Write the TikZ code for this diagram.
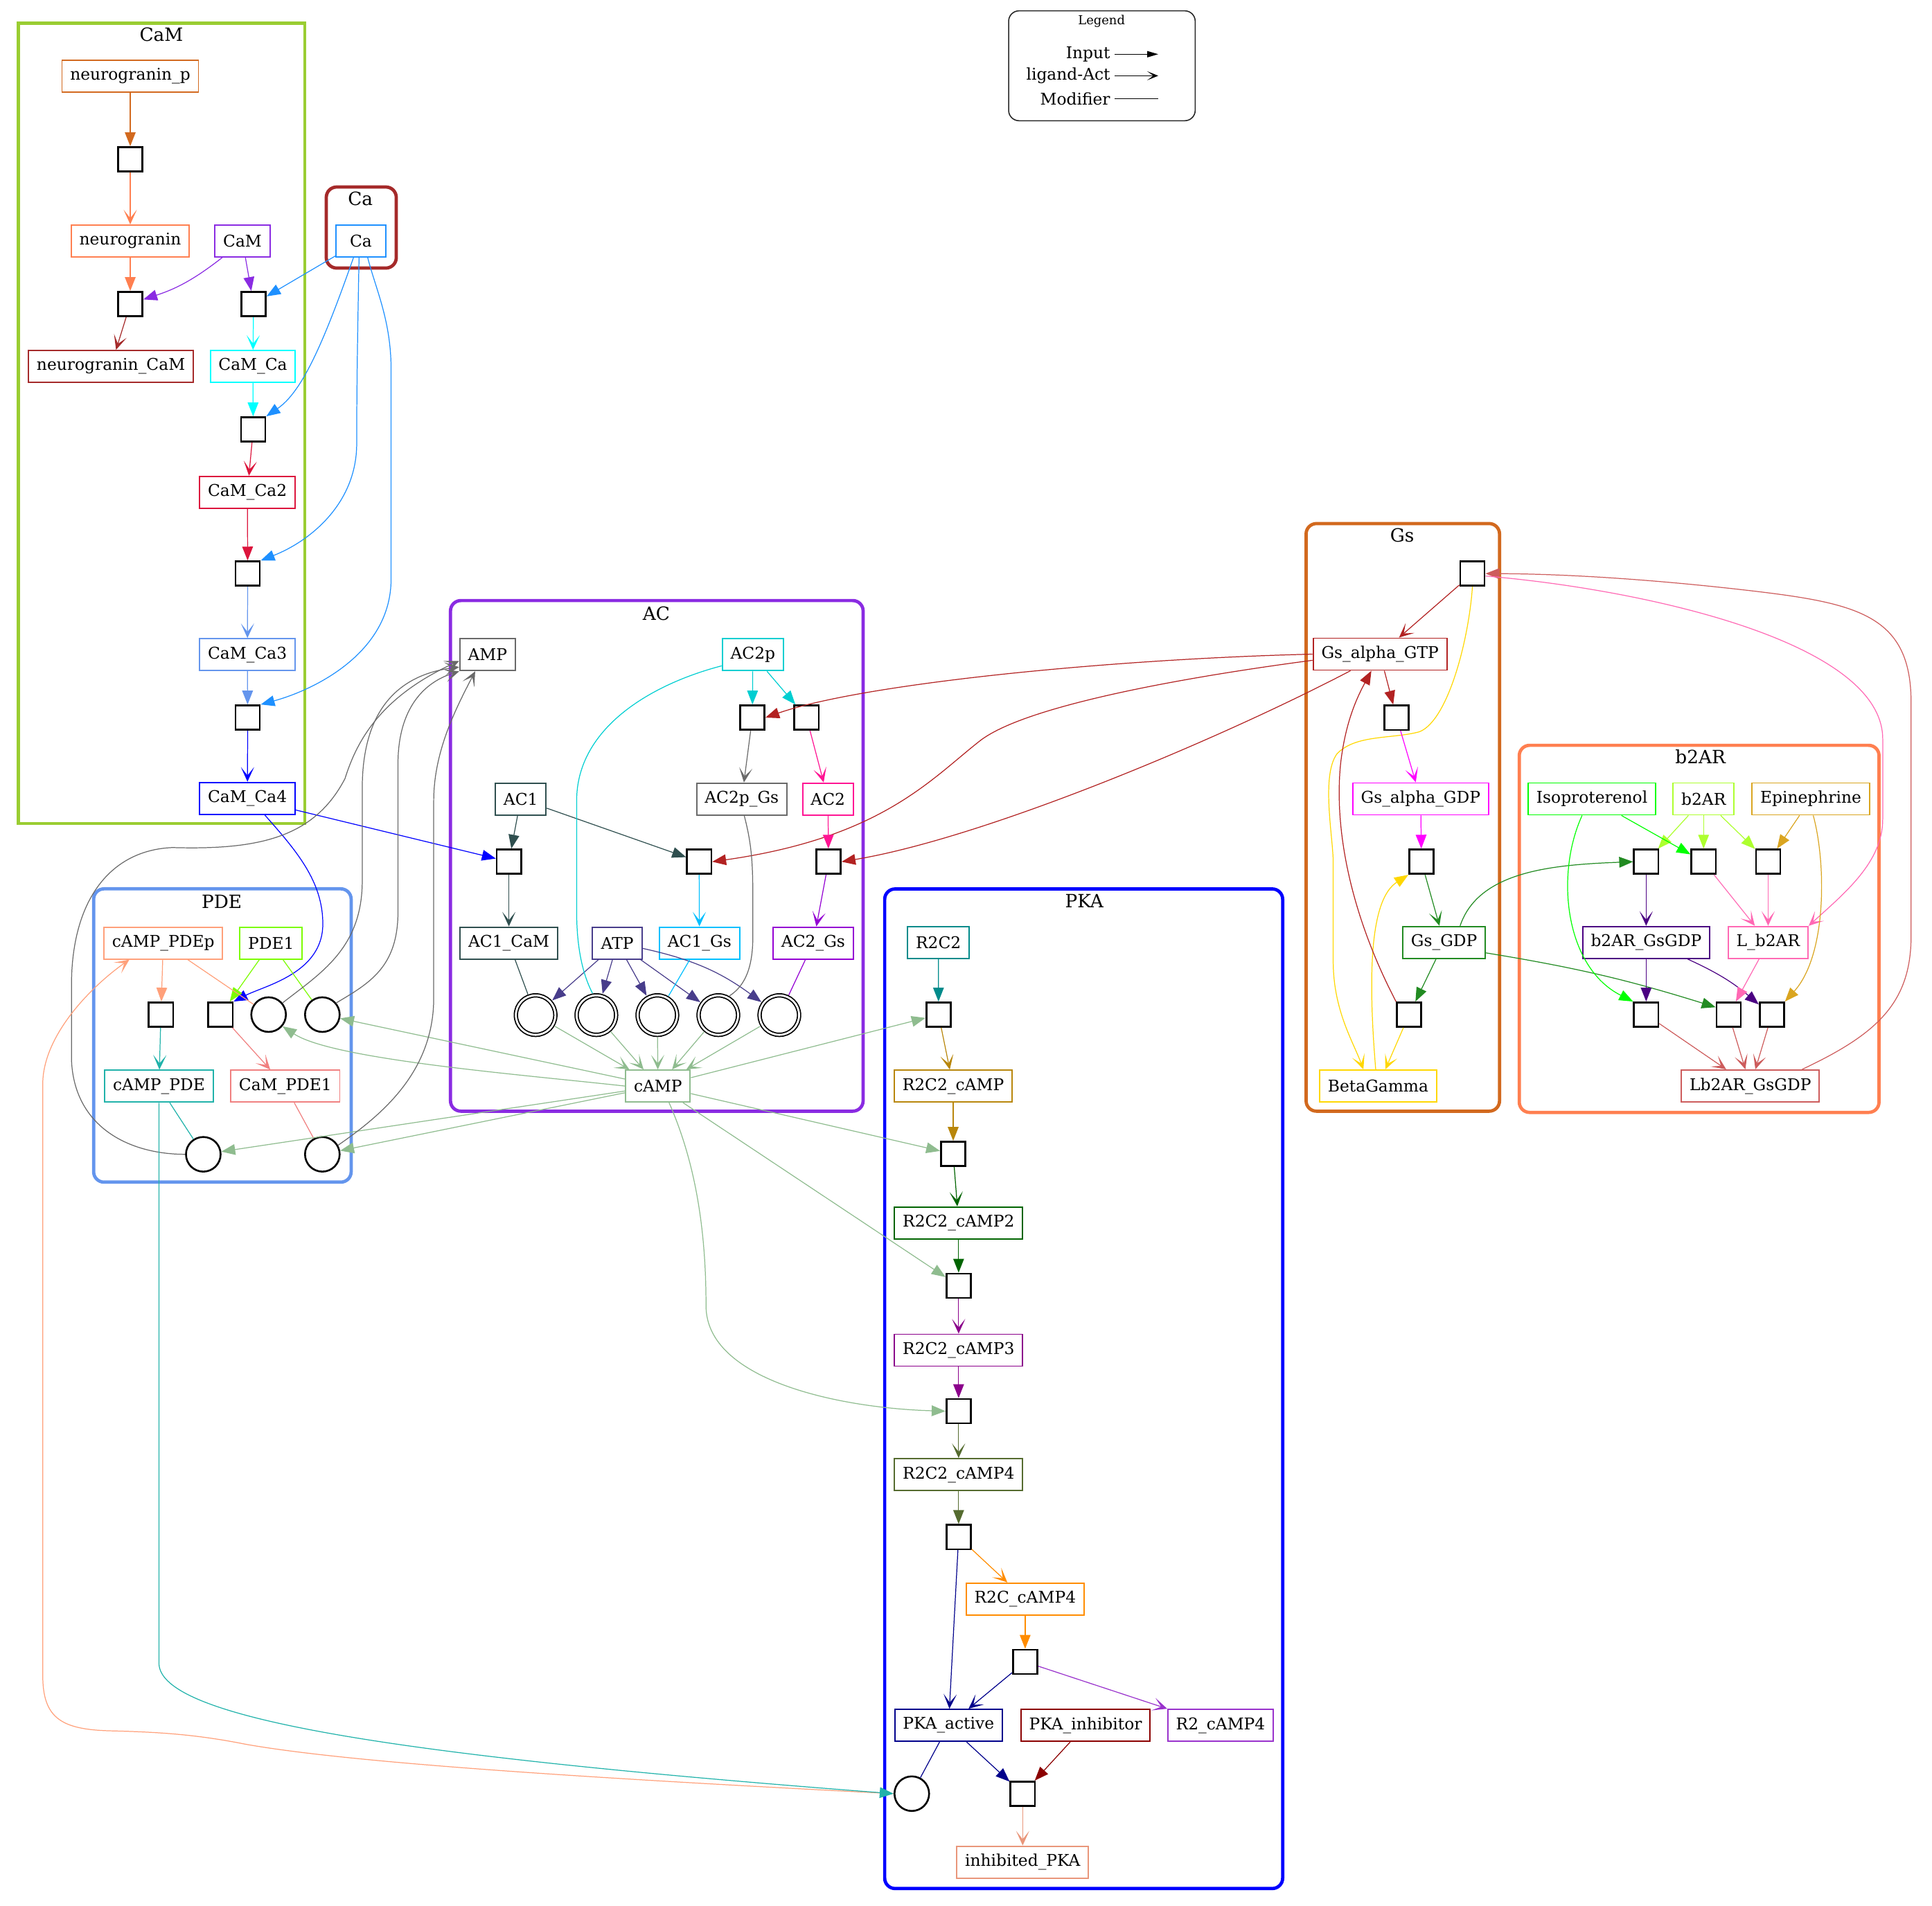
\documentclass[tikz,border=0pt]{standalone}
\usepackage{fontspec}
\setmainfont{DejaVu Serif}
\usetikzlibrary{arrows.meta,calc}

\newcommand\nodefont{\fontsize{6.65pt}{8pt}\selectfont}
\newcommand\clusterfont{\fontsize{7.5pt}{9pt}\selectfont}
\newcommand\legendtitlefont{\fontsize{5.1pt}{6pt}\selectfont}

% X11 colour names used by the species and compartments
\definecolor{cChocolate}{HTML}{D2691E}
\definecolor{cCoral}{HTML}{FF7F50}
\definecolor{cBlueViolet}{HTML}{8A2BE2}
\definecolor{cBrown}{HTML}{A52A2A}
\definecolor{cCyan}{HTML}{00FFFF}
\definecolor{cCrimson}{HTML}{DC143C}
\definecolor{cCornflower}{HTML}{6495ED}
\definecolor{cBlue}{HTML}{0000FF}
\definecolor{cDodger}{HTML}{1E90FF}
\definecolor{cYellowGreen}{HTML}{9ACD32}
\definecolor{cDimGray}{HTML}{696969}
\definecolor{cDarkTurq}{HTML}{00CED1}
\definecolor{cDSlateGray}{HTML}{2F4F4F}
\definecolor{cDeepPink}{HTML}{FF1493}
\definecolor{cDSlateBlue}{HTML}{483D8B}
\definecolor{cDeepSky}{HTML}{00BFFF}
\definecolor{cDarkViolet}{HTML}{9400D3}
\definecolor{cDSeaGreen}{HTML}{8FBC8F}
\definecolor{cLSalmon}{HTML}{FFA07A}
\definecolor{cLawnGreen}{HTML}{7CFC00}
\definecolor{cLSeaGreen}{HTML}{20B2AA}
\definecolor{cLCoral}{HTML}{F08080}
\definecolor{cDarkCyan}{HTML}{008B8B}
\definecolor{cDGoldenrod}{HTML}{B8860B}
\definecolor{cDarkGreen}{HTML}{006400}
\definecolor{cDarkMagenta}{HTML}{8B008B}
\definecolor{cDOliveGreen}{HTML}{556B2F}
\definecolor{cDarkOrange}{HTML}{FF8C00}
\definecolor{cDarkBlue}{HTML}{00008B}
\definecolor{cDarkRed}{HTML}{8B0000}
\definecolor{cDarkOrchid}{HTML}{9932CC}
\definecolor{cDarkSalmon}{HTML}{E9967A}
\definecolor{cFirebrick}{HTML}{B22222}
\definecolor{cMagenta}{HTML}{FF00FF}
\definecolor{cForestGreen}{HTML}{228B22}
\definecolor{cGold}{HTML}{FFD700}
\definecolor{cLime}{HTML}{00FF00}
\definecolor{cGreenYellow}{HTML}{ADFF2F}
\definecolor{cGoldenrod}{HTML}{DAA520}
\definecolor{cIndigo}{HTML}{4B0082}
\definecolor{cHotPink}{HTML}{FF69B4}
\definecolor{cIndianRed}{HTML}{CD5C5C}

\begin{document}
\begin{tikzpicture}[x=0.017787cm, y=0.017787cm,
  sp/.style={draw=#1, rectangle, line width=0.55pt, minimum height=0.46cm,
             minimum width=0.72cm, inner xsep=0.118cm, inner ysep=0pt, font=\nodefont},
  rx/.style={draw=black, rectangle, line width=0.75pt, minimum size=0.352cm, inner sep=0pt},
  en/.style={draw=black, circle, line width=0.75pt, minimum size=0.5cm, inner sep=0pt},
  den/.style={draw=black, circle, line width=0.5pt, double, double distance=0.028cm,
              minimum size=0.57cm, inner sep=0pt, outer sep=0.035cm},
  ip/.style={draw=#1, line width=0.35pt, -{Triangle[length=0.2cm,width=0.155cm]}},
  pd/.style={draw=#1, line width=0.35pt, -{Stealth[length=0.21cm,width=0.19cm,inset=0.12cm]}},
  md/.style={draw=#1, line width=0.35pt},
  grp/.style={draw=#1, line width=1.35pt, rounded corners=0.15cm},
  grptitle/.style={font=\clusterfont, inner sep=0pt},
]
\useasboundingbox (0,0) rectangle (1568,-1547);

% ---------- compartments ----------
\draw[grp=cYellowGreen, sharp corners] (15,-19) rectangle (247.4,-668.5);
\draw[grp=cBrown] (264.8,-151.8) rectangle (321.6,-217.6);
\draw[grp=cBlueViolet] (365.6,-487.5) rectangle (700.5,-902);
\draw[grp=cCornflower] (76,-721.5) rectangle (285,-959.6);
\draw[grp=cBlue] (718,-721.6) rectangle (1041,-1533);
\draw[grp=cChocolate] (1060,-425) rectangle (1217,-902);
\draw[grp=cCoral] (1233,-605) rectangle (1525,-903);

\node[grptitle] (tCaM) at (131,-28) {CaM};
\node[grptitle] (tCa) at (292.5,-161.5) {Ca};
\node[grptitle] (tAC) at (532.6,-498) {AC};
\node[grptitle] (tPDE) at (180,-731.8) {PDE};
\node[grptitle] (tPKA) at (880,-731.6) {PKA};
\node[grptitle] (tGs) at (1138,-434.6) {Gs};
\node[grptitle] (tb2AR) at (1380,-614.5) {b2AR};

% ---------- legend ----------
\draw[rounded corners=0.15cm, line width=0.45pt, draw=black!85] (818.6,-8.8) rectangle (970,-98);
\node[font=\legendtitlefont, inner sep=0pt] (lgT) at (894,-17.5) {Legend};
\node[font=\nodefont, anchor=east, inner sep=0pt] (lgIn) at (901.4,-44) {Input};
\node[font=\nodefont, anchor=east, inner sep=0pt] (lgLA) at (901.4,-61.5) {ligand-Act};
\node[font=\nodefont, anchor=east, inner sep=0pt] (lgMd) at (901.4,-80) {Modifier};
\coordinate (lgInE) at (940,-44);
\coordinate (lgLAE) at (940,-61.5);
\coordinate (lgMdE) at (940,-80);
\draw[line width=0.4pt, -{Triangle[length=0.16cm,width=0.09cm]}] ($(lgIn.east)+(3.4,0)$) -- (lgInE);
\draw[line width=0.4pt, -{Stealth[length=0.16cm,width=0.13cm,inset=0.09cm]}] ($(lgLA.east)+(3.4,0)$) -- (lgLAE);
\draw[line width=0.4pt] ($(lgMd.east)+(3.4,0)$) -- (lgMdE);

% ---------- CaM / Ca ----------
\node[sp=cChocolate] (ngp) at (105.7,-61.8) {neurogranin\_p};
\node[rx] (r1) at (105.7,-129.3) {};
\node[sp=cCoral] (ng) at (105.7,-195.6) {neurogranin};
\node[sp=cBlueViolet] (cam) at (196.8,-195.6) {CaM};
\node[sp=cDodger] (ca) at (292.9,-195.6) {Ca};
\node[rx] (r2) at (105.7,-246.8) {};
\node[rx] (r3) at (205.8,-246.8) {};
\node[sp=cBrown] (ngcam) at (90,-297.4) {neurogranin\_CaM};
\node[sp=cCyan] (camca) at (205.2,-297.4) {CaM\_Ca};
\node[rx] (r4) at (205.5,-348.6) {};
\node[sp=cCrimson] (camca2) at (200.8,-399.6) {CaM\_Ca2};
\node[rx] (r5) at (201,-465.6) {};
\node[sp=cCornflower] (camca3) at (200.8,-531.4) {CaM\_Ca3};
\node[rx] (r6) at (201,-582.5) {};
\node[sp=cBlue] (camca4) at (200.8,-648) {CaM\_Ca4};

% ---------- AC ----------
\node[sp=cDimGray] (amp) at (395.7,-531.5) {AMP};
\node[sp=cDarkTurq] (ac2p) at (611,-531.5) {AC2p};
\node[rx] (ra3) at (610.6,-582.5) {};
\node[rx] (ra4) at (654.6,-582.5) {};
\node[sp=cDSlateGray] (ac1) at (422.6,-648.6) {AC1};
\node[sp=cDimGray] (ac2pgs) at (602,-648.6) {AC2p\_Gs};
\node[sp=cDeepPink] (ac2) at (672,-648.6) {AC2};
\node[rx] (ra1) at (413,-699.5) {};
\node[rx] (ra2) at (567.4,-699.5) {};
\node[rx] (ra5) at (672.4,-699.5) {};
\node[sp=cDSlateGray] (ac1cam) at (413,-765.5) {AC1\_CaM};
\node[sp=cDSlateBlue] (atp) at (501,-765.5) {ATP};
\node[sp=cDeepSky] (ac1gs) at (567.7,-765.5) {AC1\_Gs};
\node[sp=cDarkViolet] (ac2gs) at (660,-765.5) {AC2\_Gs};
\node[den] (e1) at (434.7,-824) {};
\node[den] (e2) at (484,-824) {};
\node[den] (e3) at (533.5,-824) {};
\node[den] (e4) at (583,-824) {};
\node[den] (e5) at (632.5,-824) {};
\node[sp=cDSeaGreen] (camp) at (534,-881.6) {cAMP};

% ---------- PDE ----------
\node[sp=cLSalmon] (pdep) at (132.5,-765.5) {cAMP\_PDEp};
\node[sp=cLawnGreen] (pde1) at (220,-765.5) {PDE1};
\node[rx] (rp1) at (130.6,-823.6) {};
\node[rx] (rp2) at (179,-823.6) {};
\node[en] (c1) at (218,-823.6) {};
\node[en] (c2) at (261.6,-823.6) {};
\node[sp=cLSeaGreen] (cpde) at (129,-881.7) {cAMP\_PDE};
\node[sp=cLCoral] (campde1) at (231.5,-881.7) {CaM\_PDE1};
\node[en] (c3) at (165,-937) {};
\node[en] (c4) at (261.6,-937) {};

% ---------- PKA ----------
\node[sp=cDarkCyan] (r2c2) at (761.6,-765) {R2C2};
\node[rx] (rk1) at (761.7,-823.6) {};
\node[sp=cDGoldenrod] (r2c2c) at (773.6,-881.7) {R2C2\_cAMP};
\node[rx] (rk2) at (773.6,-936.7) {};
\node[sp=cDarkGreen] (r2c2c2) at (778,-992.7) {R2C2\_cAMP2};
\node[rx] (rk3) at (778,-1043.7) {};
\node[sp=cDarkMagenta] (r2c2c3) at (778,-1096) {R2C2\_cAMP3};
\node[rx] (rk4) at (778,-1145.5) {};
\node[sp=cDOliveGreen] (r2c2c4) at (778,-1197) {R2C2\_cAMP4};
\node[rx] (rk5) at (778,-1247.7) {};
\node[sp=cDarkOrange] (r2cc4) at (832,-1298) {R2C\_cAMP4};
\node[rx] (rk6) at (832,-1349) {};
\node[sp=cDarkBlue] (pkaa) at (769.8,-1400.5) {PKA\_active};
\node[sp=cDarkRed] (pkai) at (881,-1400.5) {PKA\_inhibitor};
\node[sp=cDarkOrchid] (r2c4) at (990.6,-1400.5) {R2\_cAMP4};
\node[en] (pk) at (740,-1456) {};
\node[rx] (rk7) at (830,-1456) {};
\node[sp=cDarkSalmon] (ipka) at (830,-1511.5) {inhibited\_PKA};

% ---------- Gs ----------
\node[rx] (rg1) at (1195,-465.6) {};
\node[sp=cFirebrick] (gtp) at (1120,-531) {Gs\_alpha\_GTP};
\node[rx] (rg2) at (1133.5,-582.6) {};
\node[sp=cMagenta] (gag) at (1153,-648.5) {Gs\_alpha\_GDP};
\node[rx] (rg3) at (1153.6,-699.5) {};
\node[sp=cForestGreen] (gd) at (1172,-765) {Gs\_GDP};
\node[rx] (rg4) at (1143.6,-823.6) {};
\node[sp=cGold] (bg) at (1118.5,-881.5) {BetaGamma};

% ---------- b2AR ----------
\node[sp=cLime] (iso) at (1292,-648.5) {Isoproterenol};
\node[sp=cGreenYellow] (b2) at (1382.6,-648.5) {b2AR};
\node[sp=cGoldenrod] (epi) at (1469.6,-648.5) {Epinephrine};
\node[rx] (rb1) at (1336,-699.5) {};
\node[rx] (rb2) at (1382.6,-699.5) {};
\node[rx] (rb3) at (1435,-699.5) {};
\node[sp=cIndigo] (bgs) at (1336,-765) {b2AR\_GsGDP};
\node[sp=cHotPink] (lb2) at (1435,-765) {L\_b2AR};
\node[rx] (rb4) at (1336,-823.6) {};
\node[rx] (rb5) at (1403,-823.6) {};
\node[rx] (rb6) at (1438,-823.6) {};
\node[sp=cIndianRed] (lb2gs) at (1420.6,-881.5) {Lb2AR\_GsGDP};

% ---------- reactions: CaM / Ca ----------
\draw[ip=cChocolate] (ngp) -- (r1);
\draw[pd=cCoral] (r1) -- (ng);
\draw[ip=cCoral] (ng) -- (r2);
\draw[ip=cBlueViolet] (cam) to[bend left=10] (r2);
\draw[ip=cBlueViolet] (cam) -- (r3);
\draw[pd=cBrown] (r2) -- (ngcam);
\draw[ip=cDodger] (ca) -- (r3);
\draw[pd=cCyan] (r3) -- (camca);
\draw[ip=cCyan] (camca) -- (r4);
\draw[ip=cDodger] ($(ca.south)+(-6,0)$) .. controls (262,-280) and (245,-318) .. (r4.north east);
\draw[pd=cCrimson] (r4) -- (camca2);
\draw[ip=cCrimson] (camca2) -- (r5);
\draw[ip=cDodger] ($(ca.south)+(-1.5,0)$) .. controls (290,-280) and (289.5,-320) .. (289.5,-360)
      .. controls (289.5,-410) and (250,-440) .. (r5.north east);
\draw[pd=cCornflower] (r5) -- (camca3);
\draw[ip=cCornflower] (camca3) -- (r6);
\draw[ip=cDodger] ($(ca.south)+(5.5,0)$) .. controls (305,-235) and (317.4,-260) .. (317.4,-300)
      -- (317.4,-470) .. controls (317.4,-530) and (255,-560) .. (r6.north east);
\draw[pd=cBlue] (r6) -- (camca4);

% ---------- reactions: AC ----------
\draw[ip=cBlue] (camca4) -- (ra1);
\draw[ip=cBlue] ($(camca4.south)+(14,0)$) .. controls (240,-690) and (262,-715) .. (262,-750)
      .. controls (262,-790) and (215,-800) .. (rp2.north east);
\draw[ip=cDSlateGray] (ac1) -- (ra1);
\draw[pd=cDSlateGray] (ra1) -- (ac1cam);
\draw[ip=cDSlateGray] (ac1) -- (ra2);
\draw[ip=cFirebrick] (gtp.west) .. controls (900,-535) and (700,-555) .. (ra3.east);
\draw[ip=cFirebrick] ($(gtp.west)+(0,-5)$) .. controls (986,-546.4) and (835,-570) .. (795,-601.6)
      .. controls (755,-633) and (715,-680) .. (ra2.east);
\draw[ip=cFirebrick] ($(gtp.south)+(-24,0)$) .. controls (990,-600) and (800,-680) .. (ra5.east);
\draw[ip=cDarkTurq] (ac2p) -- (ra3);
\draw[ip=cDarkTurq] (ac2p) -- (ra4);
\draw[pd=cDimGray] (ra3) -- (ac2pgs);
\draw[pd=cDeepPink] (ra4) -- (ac2);
\draw[ip=cDeepPink] (ac2) -- (ra5);
\draw[pd=cDeepSky] (ra2) -- (ac1gs);
\draw[pd=cDarkViolet] (ra5) -- (ac2gs);
\foreach \e in {e1,e2,e3,e4} \draw[ip=cDSlateBlue] (atp) -- (\e);
\draw[ip=cDSlateBlue] (atp) to[bend left=12] (e5);
\draw[md=cDSlateGray] (ac1cam) -- (e1);
\draw[md=cDarkTurq] ($(ac2p.west)+(0,-9)$) .. controls (530,-555) and (468,-590) .. (468,-650)
      -- (468,-740) .. controls (468,-775) and (475,-795) .. (e2.100);
\draw[md=cDeepSky] (ac1gs) -- (e3);
\draw[md=cDimGray] ($(ac2pgs.south)+(2,0)$) .. controls (610,-685) and (611,-700) .. (611,-730)
      -- (611,-760) .. controls (611,-785) and (605,-800) .. (e4.60);
\draw[md=cDarkViolet] (ac2gs) -- (e5);
\foreach \e in {e1,e2,e3,e4,e5} \draw[pd=cDSeaGreen] (\e) -- (camp);

% ---------- reactions: PDE ----------
\draw[ip=cLSalmon] (pdep) -- (rp1);
\draw[pd=cLSeaGreen] (rp1) -- (cpde);
\draw[ip=cLawnGreen] (pde1) -- (rp2);
\draw[pd=cLCoral] (rp2) -- (campde1);
\draw[md=cLSalmon] (pdep) -- (c1);
\draw[md=cLawnGreen] (pde1) -- (c2);
\draw[md=cLSeaGreen] (cpde) -- (c3);
\draw[md=cLCoral] (campde1) -- (c4);
\draw[ip=cDSeaGreen] (camp.west) .. controls (420,-872) and (270,-860) .. (c1.-40);
\draw[ip=cDSeaGreen] (camp) -- (c2);
\draw[ip=cDSeaGreen] (camp) -- (c3);
\draw[ip=cDSeaGreen] (camp) -- (c4);
\draw[pd=cDimGray] (c3.west) .. controls (105,-937) and (60,-915) .. (58,-860) -- (58,-800)
      .. controls (58,-730) and (90,-690) .. (140,-688)
      .. controls (210,-690) and (255,-680) .. (280,-632)
      .. controls (290,-600) and (310,-565) .. ($(amp.west)+(0,-5)$);
\draw[pd=cDimGray] (c1.40) .. controls (260,-790) and (294,-770) .. (294,-715) -- (294,-640)
      .. controls (294,-580) and (320,-548) .. ($(amp.west)+(0,-10)$);
\draw[pd=cDimGray] (c2.40) .. controls (300,-798) and (323,-785) .. (323,-740) -- (323,-620)
      .. controls (323,-580) and (340,-555) .. (amp.south west);
\draw[pd=cDimGray] (c4.30) .. controls (310,-905) and (352,-870) .. (352,-810) -- (352,-650)
      .. controls (352,-610) and (370,-575) .. ($(amp.south west)+(13,0)$);

% ---------- reactions: PKA ----------
\draw[ip=cDarkCyan] (r2c2) -- (rk1);
\draw[ip=cDSeaGreen] (camp) -- (rk1);
\draw[pd=cDGoldenrod] (rk1) -- (r2c2c);
\draw[ip=cDGoldenrod] (r2c2c) -- (rk2);
\draw[ip=cDSeaGreen] (camp) -- (rk2);
\draw[pd=cDarkGreen] (rk2) -- (r2c2c2);
\draw[ip=cDarkGreen] (r2c2c2) -- (rk3);
\draw[ip=cDSeaGreen] (camp) -- (rk3);
\draw[pd=cDarkMagenta] (rk3) -- (r2c2c3);
\draw[ip=cDarkMagenta] (r2c2c3) -- (rk4);
\draw[ip=cDSeaGreen] ($(camp.south)+(9,0)$) .. controls (565,-945) and (573,-1000) .. (573,-1060)
      .. controls (573,-1120) and (680,-1143) .. (rk4.west);
\draw[pd=cDOliveGreen] (rk4) -- (r2c2c4);
\draw[ip=cDOliveGreen] (r2c2c4) -- (rk5);
\draw[pd=cDarkOrange] (rk5) -- (r2cc4);
\draw[pd=cDarkBlue] (rk5) -- (pkaa);
\draw[ip=cDarkOrange] (r2cc4) -- (rk6);
\draw[pd=cDarkBlue] (rk6) -- (pkaa);
\draw[pd=cDarkOrchid] (rk6) -- (r2c4.north west);
\draw[ip=cDarkBlue] (pkaa) -- (rk7);
\draw[ip=cDarkRed] (pkai) -- (rk7);
\draw[pd=cDarkSalmon] (rk7) -- (ipka);
\draw[md=cDarkBlue] (pkaa) -- (pk);
\draw[pd=cLSalmon] (pk.west) .. controls (450,-1442) and (280,-1430) .. (200,-1416)
      .. controls (160,-1408) and (130,-1406) .. (90,-1405)
      .. controls (50,-1404) and (34.7,-1395) .. (34.7,-1360) -- (34.7,-880)
      .. controls (34.7,-840) and (75,-800) .. ($(pdep.south)+(-27.5,0)$);
\draw[ip=cLSeaGreen] (cpde.south) -- (129,-1350) .. controls (129,-1395) and (320,-1425) .. (pk.west);

% ---------- reactions: Gs ----------
\draw[pd=cFirebrick] (rg1) -- (gtp);
\draw[pd=cGold] (rg1.south) .. controls (1192,-520) and (1175,-585) .. (1152,-594)
      .. controls (1130,-600) and (1100,-596) .. (1085,-612)
      .. controls (1072,-630) and (1082,-680) .. (1082,-700) -- (1082,-780)
      .. controls (1082,-820) and (1098,-845) .. ($(bg.north)+(-12,0)$);
\draw[ip=cFirebrick] (gtp) -- (rg2);
\draw[pd=cMagenta] (rg2) -- (gag);
\draw[ip=cMagenta] (gag) -- (rg3);
\draw[ip=cGold] ($(bg.north)+(-2,0)$) .. controls (1110,-790) and (1112,-730) .. (rg3.south west);
\draw[pd=cForestGreen] (rg3) -- (gd);
\draw[ip=cForestGreen] (gd) -- (rg4);
\draw[pd=cGold] (rg4) -- (bg);
\draw[ip=cFirebrick] (rg4.north west) .. controls (1100,-750) and (1082,-680) .. (1088,-620)
      .. controls (1092,-585) and (1102,-565) .. ($(gtp.south)+(-7,0)$);
\draw[ip=cForestGreen] ($(gd.north)+(13,0)$) .. controls (1200,-707) and (1260,-702) .. (rb1.west);
\draw[ip=cForestGreen] ($(gd.east)+(0,-8.5)$) to[bend left=4] ($(rb5.west)+(0,6)$);
\draw[ip=cIndianRed] ($(lb2gs.north)+(42,0)$) .. controls (1522,-840) and (1551,-815) .. (1551,-760)
      -- (1551,-570) .. controls (1551,-500) and (1508,-490) .. (1425,-480)
      .. controls (1370,-473.5) and (1290,-466) .. (rg1.east);
\draw[pd=cHotPink] ($(rg1.east)+(0,-2)$) .. controls (1330,-478) and (1528,-520) .. (1528,-600)
      -- (1528,-665) .. controls (1528,-700) and (1497,-725) .. (lb2.north east);

% ---------- reactions: b2AR ----------
\draw[ip=cGreenYellow] (b2) -- (rb1);
\draw[ip=cGreenYellow] (b2) -- (rb2);
\draw[ip=cGreenYellow] (b2) -- (rb3);
\draw[ip=cLime] (iso) -- (rb2);
\draw[ip=cLime] ($(iso.south)+(-8,0)$) .. controls (1262,-710) and (1270,-785) .. (rb4.north west);
\draw[ip=cGoldenrod] (epi) -- (rb3);
\draw[ip=cGoldenrod] ($(epi.south)+(2,0)$) .. controls (1482,-700) and (1483,-775) .. (rb6.north east);
\draw[pd=cIndigo] (rb1) -- (bgs);
\draw[pd=cHotPink] (rb2) -- (lb2);
\draw[pd=cHotPink] (rb3) -- (lb2);
\draw[ip=cIndigo] (bgs) -- (rb4);
\draw[ip=cIndigo] (bgs) to[bend left=8] (rb6);
\draw[ip=cHotPink] (lb2) -- (rb5);
\draw[pd=cIndianRed] (rb4) -- (lb2gs);
\draw[pd=cIndianRed] (rb5) -- (lb2gs);
\draw[pd=cIndianRed] (rb6) -- (lb2gs);
\end{tikzpicture}
\end{document}
